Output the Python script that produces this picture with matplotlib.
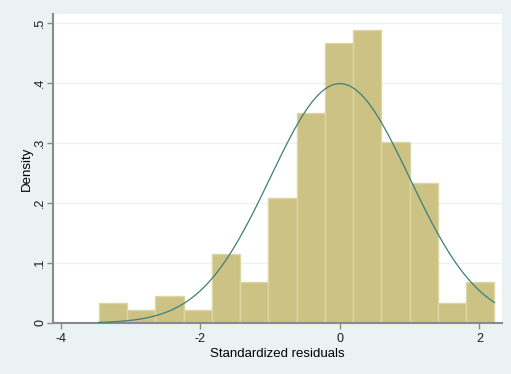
import numpy as np
import matplotlib.pyplot as plt

# histogram of standardized residuals (density scale) with normal overlay
bin_start = -3.459
bin_width = 0.4054
densities = [0.034, 0.0217, 0.0456, 0.0217, 0.115, 0.068, 0.209,
             0.350, 0.466, 0.489, 0.302, 0.233, 0.0333, 0.068]
xticks = [-4, -2, 0, 2]
yticks = [0, 0.1, 0.2, 0.3, 0.4, 0.5]
ytick_labels = ['0', '.1', '.2', '.3', '.4', '.5']

bg = '#eaf2f3'
bar_color = '#cbc283'
edge_color = '#dcd6a4'
line_color = '#3f7f7a'
axis_color = '#8a8a8a'

plt.rcParams['font.family'] = ['Liberation Sans', 'DejaVu Sans']
plt.rcParams['axes.unicode_minus'] = False

fig = plt.figure(figsize=(5.11, 3.74), dpi=100, facecolor=bg)
ax = fig.add_axes([53 / 511, 1 - 323 / 374, 449 / 511, 309 / 374])
ax.set_facecolor('white')

edges = bin_start + bin_width * np.arange(len(densities) + 1)
ax.bar(edges[:-1], densities, width=bin_width, align='edge',
       color=bar_color, edgecolor=edge_color, linewidth=1.0, zorder=2)

x = np.linspace(edges[0], edges[-1], 300)
ax.plot(x, np.exp(-x ** 2 / 2) / np.sqrt(2 * np.pi), color=line_color,
        linewidth=0.9, zorder=3)

ax.set_xlim(-4.115, 2.325)
ax.set_ylim(0, 0.515)
ax.set_xticks(xticks)
ax.set_yticks(yticks)
ax.set_yticklabels(ytick_labels, rotation=90, va='center')
ax.grid(axis='y', color=bg, linewidth=1.0, zorder=0)

for side in ['top', 'right']:
    ax.spines[side].set_visible(False)
for side in ['left', 'bottom']:
    ax.spines[side].set_color(axis_color)
    ax.spines[side].set_linewidth(1.5)
ax.tick_params(colors=axis_color, labelcolor='#1a1a1a', length=4, width=1,
               labelsize=9)
ax.tick_params(axis='y', pad=1)

ax.set_xlabel('Standardized residuals', fontsize=9.5, labelpad=2)
ax.set_ylabel('Density', fontsize=9.5, labelpad=1)

fig.savefig('out.png', dpi=100, facecolor=bg)
